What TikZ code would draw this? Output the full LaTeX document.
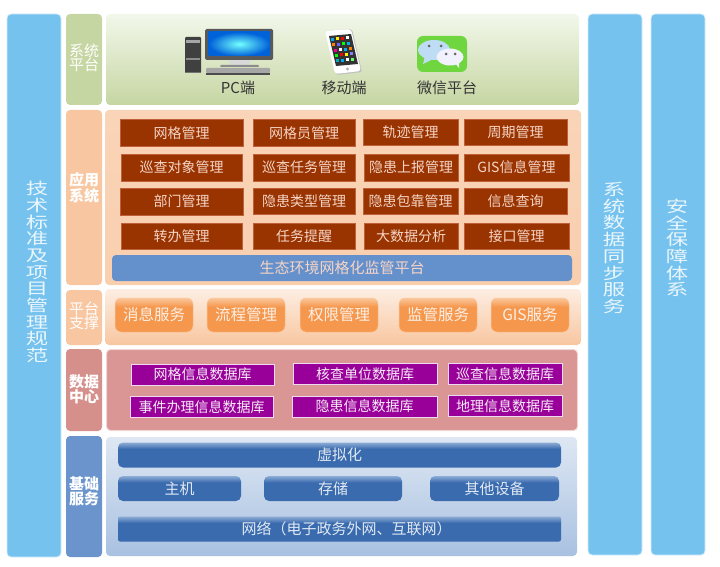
\documentclass[tikz,border=0pt]{standalone}
\usepackage{fontspec}
\setmainfont{Noto Sans CJK SC}
\usetikzlibrary{calc}

\definecolor{sideblue}{HTML}{75C2EE}
\definecolor{sideedge}{HTML}{D5ECFA}
\definecolor{tabgreen}{HTML}{C6D6A2}
\definecolor{taborange}{HTML}{F8C6A0}
\definecolor{tabred}{HTML}{D6908C}
\definecolor{tabblue}{HTML}{6A94CB}
\definecolor{brownfill}{HTML}{993300}
\definecolor{brownedge}{HTML}{C0603A}
\definecolor{brownfont}{HTML}{F6D5C6}
\definecolor{barblue}{HTML}{6490CC}
\definecolor{btnorange}{HTML}{F5984E}
\definecolor{btnorangetop}{HTML}{FBC79C}
\definecolor{purplefill}{HTML}{990099}
\definecolor{dbred}{HTML}{D99694}
\definecolor{btnblue}{HTML}{3A6BAE}
\definecolor{btnbluetop}{HTML}{8DACD6}
\definecolor{wechatgreen}{HTML}{6FD63F}
\definecolor{bubbleblue}{HTML}{BFDCF5}

\pgfdeclareverticalshading{orangebtn}{100bp}{color(0bp)=(btnorange); color(62bp)=(btnorange); color(75bp)=(btnorangetop); color(100bp)=(btnorangetop)}
\pgfdeclareverticalshading{bluebtn}{100bp}{color(0bp)=(btnblue); color(62bp)=(btnblue); color(75bp)=(btnbluetop); color(100bp)=(btnbluetop)}

\tikzset{
    panel/.style={inner sep=0pt, rounded corners=4pt},
    sidebar/.style={panel, fill=sideblue, draw=sideedge, line width=0.8pt, minimum width=54pt},
    sidetext/.style={inner sep=0pt, xscale=1.4, transform shape, text=white!85!sideblue,
        align=center, font=\fontsize{16}{16.7}\selectfont},
    tab/.style={panel, minimum width=36pt},
    tabtext/.style={inner sep=0pt, text=white, align=center, font=\fontsize{15}{14}\selectfont},
    brownbox/.style={inner sep=0pt, fill=brownfill, draw=brownedge, line width=0.5pt, minimum height=26.5pt,
        text=brownfont, font=\fontsize{14}{15}\selectfont},
    orangebox/.style={panel, rounded corners=6pt, shading=orangebtn, draw=btnorangetop, line width=0.5pt,
        minimum width=78pt, minimum height=34pt, text=white!85!btnorange, font=\fontsize{15.5}{15}\selectfont},
    purplebox/.style={inner sep=0pt, fill=purplefill, draw=white!85!purplefill, line width=0.8pt, minimum height=21pt,
        text=white!92!purplefill, font=\fontsize{14}{15}\selectfont},
    bluebox/.style={panel, rounded corners=5pt, shading=bluebtn, minimum height=25pt,
        text=white!85!btnblue, font=\fontsize{15}{15}\selectfont},
    iconlabel/.style={inner sep=0pt, text=black!80, font=\fontsize{15}{15}\selectfont},
}

\begin{document}
\begin{tikzpicture}[x=1pt,y=-1pt]
    \useasboundingbox (0,0) rectangle (720,567);

    % side columns
    \node[sidebar, minimum height=543pt] (standards) at (34,285.5) {};
    \node[sidebar, minimum height=541pt] (datasync) at (615,284.5) {};
    \node[sidebar, minimum height=541pt] (security) at (678,284.5) {};
    \node[sidetext] (standardstxt) at (37,272) {技\\术\\标\\准\\及\\项\\目\\管\\理\\规\\范};
    \node[sidetext] (datasynctxt) at (614,248) {系\\统\\数\\据\\同\\步\\服\\务};
    \node[sidetext] (securitytxt) at (677,248) {安\\全\\保\\障\\体\\系};

    % layer tabs
    \node[tab, fill=tabgreen, minimum height=91pt] (tabsys) at (84,59.5) {};
    \node[tab, fill=taborange, minimum height=175pt] (tabapp) at (84,197.5) {};
    \node[tab, fill=taborange, minimum height=55pt] (tabsup) at (84,317.5) {};
    \node[tab, fill=tabred, minimum height=82pt] (tabdata) at (84,390) {};
    \node[tab, fill=tabblue, minimum height=121pt] (tabbase) at (84,496.5) {};
    \node[tabtext] (tabsystxt) at (84,58) {系统\\平台};
    \node[tabtext, font=\fontsize{15}{14}\bfseries\selectfont] (tabapptxt) at (84,188) {应用\\系统};
    \node[tabtext] (tabsuptxt) at (84,316) {平台\\支撑};
    \node[tabtext, font=\fontsize{15}{14}\bfseries\selectfont] (tabdatatxt) at (84,389) {数据\\中心};
    \node[tabtext, font=\fontsize{15}{14}\bfseries\selectfont] (tabbasetxt) at (84,491) {基础\\服务};

    % layer panels
    \node[panel, top color=green!25!olive!8!white, bottom color=tabgreen, minimum width=473pt, minimum height=91pt] (panelsys) at (342.5,59.5) {};
    \node[panel, top color=taborange!75!white, bottom color=taborange!85!white, minimum width=476pt, minimum height=175pt] (panelapp) at (343,197.5) {};
    \node[panel, top color=taborange!30!white, bottom color=taborange, minimum width=476pt, minimum height=56pt] (panelsup) at (343,317) {};
    \node[panel, fill=dbred, draw=dbred!40!white, line width=1pt, minimum width=471pt, minimum height=81pt] (paneldata) at (342,390) {};
    \node[panel, top color=tabblue!22!white, bottom color=tabblue!58!white, minimum width=471pt, minimum height=119pt] (panelbase) at (341.5,496.5) {};

    % PC
    \fill[black!75, rounded corners=1pt] (185,37) rectangle (201,73);
    \fill[black!35] (186,40) rectangle (200,43);
    \fill[black!45] (186,58) rectangle (200,60);
    \draw[black!55, line width=1pt] (185,72.5) -- (201,72.5);
    \fill[black!65, rounded corners=1.5pt] (205,29) rectangle (273,60);
    \shade[inner color=cyan!55!white, outer color=blue!55!cyan!85!black] (208.5,32) rectangle (270,56);
    \fill[black!15] (229,60) rectangle (250,65);
    \fill[black!45, rounded corners=1pt] (220,65) rectangle (259,67);
    \fill[black!35, rounded corners=1pt] (206,68) rectangle (270,73);
    \fill[black!70] (206,73) rectangle (270,75);
    \node[iconlabel] (pclabel) at (238,88) {PC端};

    % phone
    \fill[black!25, rounded corners=2pt] (326,31) -- (352,29) -- (362,72) -- (336,75) -- cycle;
    \fill[white, rounded corners=3pt] (325,31) -- (351,29) -- (361,71) -- (335,74) -- cycle;
    \fill[black!80] (329,36) -- (351,34) -- (358,64) -- (336,66) -- cycle;
    \foreach \col/\row/\tone in {0/0/cyan,1/0/yellow,2/0/red,3/0/white,0/1/orange,1/1/blue!60!white,2/1/green,3/1/cyan,0/2/magenta,1/2/white,2/2/cyan,3/2/orange,0/3/green,1/3/red,2/3/yellow,3/3/blue!50!white,0/4/cyan!70!green,1/4/cyan,2/4/white,3/4/green!60!white}{
        \fill[\tone] ($(331,38)+(\col*5,-\col*0.5)+(\row*1.3,\row*5.3)$) rectangle +(3,3);
    }
    \fill[black!30] (347.5,69) circle (1.6pt);
    \node[iconlabel] (mobilelabel) at (344,88) {移动端};

    % wechat
    \fill[wechatgreen, rounded corners=6pt] (417,36) rectangle (467,72);
    \fill[bubbleblue] (434,50) ellipse (16pt and 10pt);
    \fill[bubbleblue] (425,56) -- (423,64) -- (433,59) -- cycle;
    \fill[white!95!blue] (450,57) ellipse (13.5pt and 8.5pt);
    \fill[white!95!blue] (455,63) -- (459,68) -- (459,61) -- cycle;
    \foreach \px/\py in {429/46,441/46,446/54,455/54}{\fill[black!60] (\px,\py) circle (1.5pt);}
    \node[iconlabel] (wechatlabel) at (447,88) {微信平台};

    % application boxes
    \node[brownbox, minimum width=123pt] (gridmgr) at (181.5,133) {网格管理};
    \node[brownbox, minimum width=102pt] (gridstaff) at (304,133) {网格员管理};
    \node[brownbox, minimum width=95pt] (trackmgr) at (410.5,132.5) {轨迹管理};
    \node[brownbox, minimum width=103pt] (cyclemgr) at (515.5,132.5) {周期管理};

    \node[brownbox, minimum width=121pt] (targetmgr) at (181.5,167.5) {巡查对象管理};
    \node[brownbox, minimum width=102pt] (taskmgr) at (304,167.5) {巡查任务管理};
    \node[brownbox, minimum width=94pt] (reportmgr) at (411,167.5) {隐患上报管理};
    \node[brownbox, minimum width=105pt] (gismgr) at (516.5,167.5) {GIS信息管理};

    \node[brownbox, minimum width=123pt] (deptmgr) at (181.5,201.5) {部门管理};
    \node[brownbox, minimum width=102pt] (typemgr) at (304,201) {隐患类型管理};
    \node[brownbox, minimum width=95pt] (assignmgr) at (410.5,201) {隐患包靠管理};
    \node[brownbox, minimum width=103pt] (querymgr) at (515.5,201) {信息查询};

    \node[brownbox, minimum width=121pt] (transfermgr) at (181.5,236) {转办管理};
    \node[brownbox, minimum width=102pt] (remindmgr) at (304,236) {任务提醒};
    \node[brownbox, minimum width=94pt] (bigdatamgr) at (411,236) {大数据分析};
    \node[brownbox, minimum width=105pt] (apimgr) at (516.5,236) {接口管理};

    \node[panel, fill=barblue, minimum width=460pt, minimum height=26pt, text=brownfont, font=\fontsize{15}{15}\selectfont] (platform) at (342,268) {生态环境网格化监管平台};

    % support services
    \node[orangebox] (msgsrv) at (154,315) {消息服务};
    \node[orangebox] (flowsrv) at (246,315) {流程管理};
    \node[orangebox] (rightsrv) at (339,315) {权限管理};
    \node[orangebox] (supervsrv) at (438,315) {监管服务};
    \node[orangebox] (gissrv) at (530,315) {GIS服务};

    % databases
    \node[purplebox, minimum width=143pt] (griddb) at (202.5,374.5) {网格信息数据库};
    \node[purplebox, minimum width=144pt] (unitdb) at (365,374) {核查单位数据库};
    \node[purplebox, minimum width=114pt] (patroldb) at (505,374) {巡查信息数据库};
    \node[purplebox, minimum width=143pt] (eventdb) at (201.5,407) {事件办理信息数据库};
    \node[purplebox, minimum width=145pt] (hazarddb) at (364.5,406.5) {隐患信息数据库};
    \node[purplebox, minimum width=114pt] (geodb) at (505,406) {地理信息数据库};

    % base services
    \node[bluebox, minimum width=443pt] (virtual) at (339.5,455) {虚拟化};
    \node[bluebox, minimum width=123pt] (hostsrv) at (179.5,488.5) {主机};
    \node[bluebox, minimum width=138pt] (storesrv) at (333,488.5) {存储};
    \node[bluebox, minimum width=129pt] (othersrv) at (494.5,488.5) {其他设备};
    \node[bluebox, rounded corners=2pt, minimum width=443pt] (network) at (339.5,529) {\hspace*{14pt}网络（电子政务外网、互联网）};
\end{tikzpicture}
\end{document}
